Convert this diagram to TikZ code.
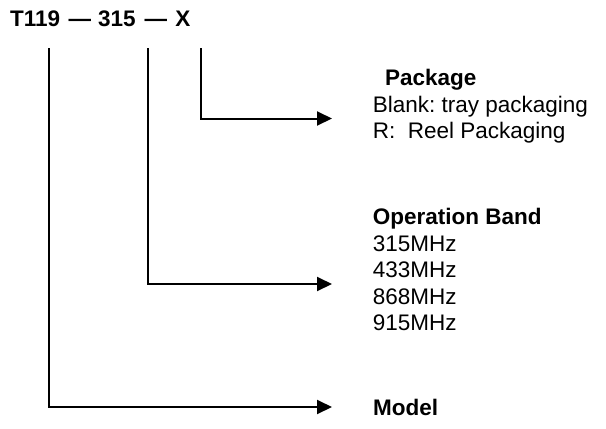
\documentclass[tikz,border=0pt]{standalone}
\usepackage{fontspec}
\setmainfont{Liberation Sans}
\usetikzlibrary{arrows.meta}
\frenchspacing
\begin{document}
\begin{tikzpicture}[x=1pt,y=-1pt,
  lbl/.style={anchor=base west, inner sep=0pt, font=\fontsize{22.5}{26.3}\selectfont},
  hd/.style={lbl, font=\fontsize{22.5}{26.3}\selectfont\bfseries},
  conn/.style={line width=2pt, -{Triangle[length=15pt,width=14pt]}}]
\useasboundingbox (0,0) rectangle (606,429);
\fill[white] (0,0) rectangle (606,429);
% title
\node[hd] (title) at (10,26) {T119\hspace{8.5pt}—\hspace{7pt}315\hspace{9pt}—\hspace{8pt}X};
% package block
\node[hd]  (pkg)   at (385,85.5) {Package};
\node[lbl] (blank) at (372.7,112) {Blank: tray packaging};
\node[lbl] (reel)  at (372.7,138) {R:\ \ Reel Packaging};
% operation band block
\node[hd]  (band)  at (372.7,224.5) {Operation Band};
\node[lbl] (f315)  at (372.7,251) {315MHz};
\node[lbl] (f433)  at (372.7,277.5) {433MHz};
\node[lbl] (f868)  at (372.7,304) {868MHz};
\node[lbl] (f915)  at (372.7,330) {915MHz};
% model
\node[hd]  (model) at (373,415) {Model};
% connector coordinates
\coordinate (sX) at (201,48);
\coordinate (cX) at (201,118.5);
\coordinate (tX) at (332,118.5);
\coordinate (sB) at (147.5,48);
\coordinate (cB) at (147.5,284);
\coordinate (tB) at (332,284);
\coordinate (sM) at (49,48);
\coordinate (cM) at (49,407);
\coordinate (tM) at (332,407);
\draw[conn] (sX) -- (cX) -- (tX);
\draw[conn] (sB) -- (cB) -- (tB);
\draw[conn] (sM) -- (cM) -- (tM);
\end{tikzpicture}
\end{document}
